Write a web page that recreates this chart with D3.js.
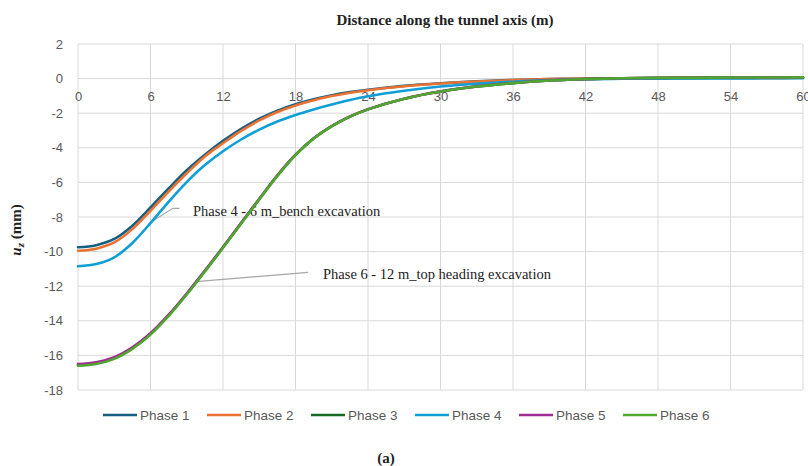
<!DOCTYPE html>
<html lang="en">
	<head>
		<meta charset="utf-8">
		<title>Vertical displacement along the tunnel axis</title>
		<script type="text/javascript" src="https://cdn.jsdelivr.net/npm/d3@7"></script>
		<style type="text/css">
			body { margin: 0; background: #fff; }
			.tick text { fill: #595959; font-family: "Liberation Sans", Arial, sans-serif; font-size: 13px; }
			.grid line { stroke: #d9d9d9; stroke-width: 1; }
			.serif { font-family: "Liberation Serif", "Times New Roman", serif; fill: #222; }
		</style>
	</head>
	<body>
		<script type="text/javascript">
			// Distance along tunnel axis (m)
			var distance = [0, 1.5, 3, 4.5, 6, 7.5, 9, 10.5, 12, 13.5, 15, 16.5, 18, 19.5, 21, 22.5, 24, 27, 30, 33, 36, 39, 42, 45, 48, 51, 54, 57, 60];

			// u_z (mm)
			var phase1 = [-9.75, -9.63, -9.27, -8.5, -7.45, -6.35, -5.3, -4.4, -3.6, -2.9, -2.32, -1.85, -1.48, -1.19, -0.96, -0.78, -0.64, -0.42, -0.27, -0.16, -0.08, -0.03, 0, 0.01, 0.02, 0.03, 0.04, 0.04, 0.05];
			var phase2 = [-9.95, -9.83, -9.47, -8.7, -7.64, -6.53, -5.47, -4.5, -3.74, -3.02, -2.42, -1.93, -1.55, -1.25, -1.01, -0.82, -0.67, -0.44, -0.28, -0.17, -0.09, -0.03, 0, 0.01, 0.02, 0.03, 0.04, 0.04, 0.05];
			var phase3 = [-16.55, -16.45, -16.15, -15.58, -14.76, -13.69, -12.45, -11.13, -9.76, -8.36, -6.97, -5.61, -4.41, -3.46, -2.75, -2.2, -1.78, -1.17, -0.75, -0.46, -0.26, -0.11, -0.03, 0.02, 0.04, 0.05, 0.06, 0.06, 0.07];
			var phase4 = [-10.85, -10.72, -10.33, -9.5, -8.35, -7.12, -5.98, -5.0, -4.2, -3.52, -2.95, -2.48, -2.1, -1.78, -1.5, -1.24, -1.02, -0.7, -0.46, -0.3, -0.18, -0.09, -0.04, -0.01, 0, 0.01, 0.01, 0.02, 0.02];
			var phase5 = [-16.5, -16.4, -16.1, -15.53, -14.72, -13.65, -12.42, -11.1, -9.73, -8.34, -6.95, -5.59, -4.4, -3.45, -2.74, -2.19, -1.77, -1.16, -0.74, -0.45, -0.25, -0.1, -0.03, 0.02, 0.04, 0.05, 0.06, 0.06, 0.07];
			var phase6 = [-16.6, -16.5, -16.2, -15.62, -14.8, -13.72, -12.48, -11.15, -9.78, -8.38, -6.98, -5.62, -4.42, -3.47, -2.76, -2.2, -1.78, -1.17, -0.75, -0.46, -0.26, -0.11, -0.03, 0.02, 0.04, 0.05, 0.06, 0.06, 0.07];

			var phaseNames = ["Phase 1", "Phase 2", "Phase 3", "Phase 4", "Phase 5", "Phase 6"];
			var phaseValues = [phase1, phase2, phase3, phase4, phase5, phase6];
			var colors = ["#156082", "#e97132", "#196b24", "#0f9ed5", "#a02b93", "#4ea72e"];

			var xTicks = [0, 6, 12, 18, 24, 30, 36, 42, 48, 54, 60];
			var yTicks = [2, 0, -2, -4, -6, -8, -10, -12, -14, -16, -18];

			var w = 808;
			var h = 466;
			var margin = {top: 44, right: 5, bottom: 76, left: 78};

			var svg = d3.select("body")
						.append("svg")
						.attr("width", w)
						.attr("height", h);

			var xScale = d3.scaleLinear()
						.domain([0, 60])
						.range([margin.left, w - margin.right]);

			var yScale = d3.scaleLinear()
						.domain([-18, 2])
						.range([h - margin.bottom, margin.top]);

			// gridlines
			svg.append("g")
				.attr("class", "grid")
				.selectAll("line")
				.data(yTicks)
				.enter()
				.append("line")
				.attr("x1", xScale(0))
				.attr("x2", xScale(60))
				.attr("y1", function(d) { return yScale(d); })
				.attr("y2", function(d) { return yScale(d); });

			svg.append("g")
				.attr("class", "grid")
				.selectAll("line")
				.data(xTicks)
				.enter()
				.append("line")
				.attr("x1", function(d) { return xScale(d); })
				.attr("x2", function(d) { return xScale(d); })
				.attr("y1", yScale(2))
				.attr("y2", yScale(-18));

			// X axis labels sit just under the zero line
			var xAxis = d3.axisBottom(xScale)
						.tickValues(xTicks)
						.tickSize(0)
						.tickPadding(13);

			svg.append("g")
				.attr("class", "x axis")
				.attr("transform", "translate(0," + yScale(0) + ")")
				.call(xAxis)
				.call(function(g) { g.select(".domain").remove(); });

			var yAxis = d3.axisLeft(yScale)
						.tickValues(yTicks)
						.tickSize(0)
						.tickPadding(15)
						.tickFormat(function(d) { return d; });

			svg.append("g")
				.attr("class", "y axis")
				.attr("transform", "translate(" + xScale(0) + ",0)")
				.call(yAxis)
				.call(function(g) { g.select(".domain").remove(); });

			// annotations with leader lines (under the curves)
			var leader = d3.line()
						.x(function(d) { return xScale(d[0]); })
						.y(function(d) { return yScale(d[1]); });

			svg.append("path")
				.attr("d", leader([[5.95, -8.33], [7.85, -7.5], [8.4, -7.5]]))
				.attr("fill", "none")
				.attr("stroke", "#a6a6a6")
				.attr("stroke-width", 1.2);

			svg.append("text")
				.attr("class", "serif")
				.attr("x", 193)
				.attr("y", 216)
				.attr("font-size", "14.5px")
				.text("Phase 4 - 6 m_bench excavation");

			svg.append("path")
				.attr("d", leader([[9.75, -11.73], [19.05, -11.2]]))
				.attr("fill", "none")
				.attr("stroke", "#a6a6a6")
				.attr("stroke-width", 1.2);

			svg.append("text")
				.attr("class", "serif")
				.attr("x", 323)
				.attr("y", 279)
				.attr("font-size", "14.5px")
				.text("Phase 6 - 12 m_top heading excavation");

			//Create lines
			var line = d3.line()
						.x(function(d) { return xScale(d[0]); })
						.y(function(d) { return yScale(d[1]); })
						.curve(d3.curveCatmullRom.alpha(0.5));

			phaseValues.forEach(function(vals, i) {
				svg.append("path")
					.datum(distance.map(function(x, j) { return [x, vals[j]]; }))
					.attr("fill", "none")
					.attr("stroke", colors[i])
					.attr("stroke-width", 2.6)
					.attr("stroke-linecap", "round")
					.attr("d", line);
			});

			// titles
			svg.append("text")
				.attr("class", "serif")
				.attr("x", 445)
				.attr("y", 25)
				.attr("text-anchor", "middle")
				.attr("font-size", "15px")
				.attr("font-weight", "bold")
				.text("Distance along the tunnel axis (m)");

			var yTitle = svg.append("text")
				.attr("class", "serif")
				.attr("transform", "translate(21,230) rotate(-90)")
				.attr("text-anchor", "middle")
				.attr("font-size", "15px")
				.attr("font-weight", "bold");
			yTitle.append("tspan").attr("font-style", "italic").text("u");
			yTitle.append("tspan").attr("font-style", "italic").attr("font-size", "11px").attr("dy", 3).text("z");
			yTitle.append("tspan").attr("dy", -3).text(" (mm)");

			svg.append("text")
				.attr("class", "serif")
				.attr("x", 386)
				.attr("y", 463)
				.attr("text-anchor", "middle")
				.attr("font-size", "15px")
				.attr("font-weight", "bold")
				.text("(a)");

			// legend
			var legend = svg.append("g")
				.selectAll("g")
				.data(phaseNames)
				.enter()
				.append("g")
				.attr("transform", function(d, i) { return "translate(" + (103 + i * 104) + ",415)"; });

			legend.append("line")
				.attr("x1", 0)
				.attr("x2", 34)
				.attr("stroke", function(d, i) { return colors[i]; })
				.attr("stroke-width", 2.6);

			legend.append("text")
				.attr("x", 37)
				.attr("dy", "0.35em")
				.attr("fill", "#595959")
				.attr("font-family", "'Liberation Sans', Arial, sans-serif")
				.attr("font-size", "13.5px")
				.text(function(d) { return d; });
		</script>
	</body>
</html>
